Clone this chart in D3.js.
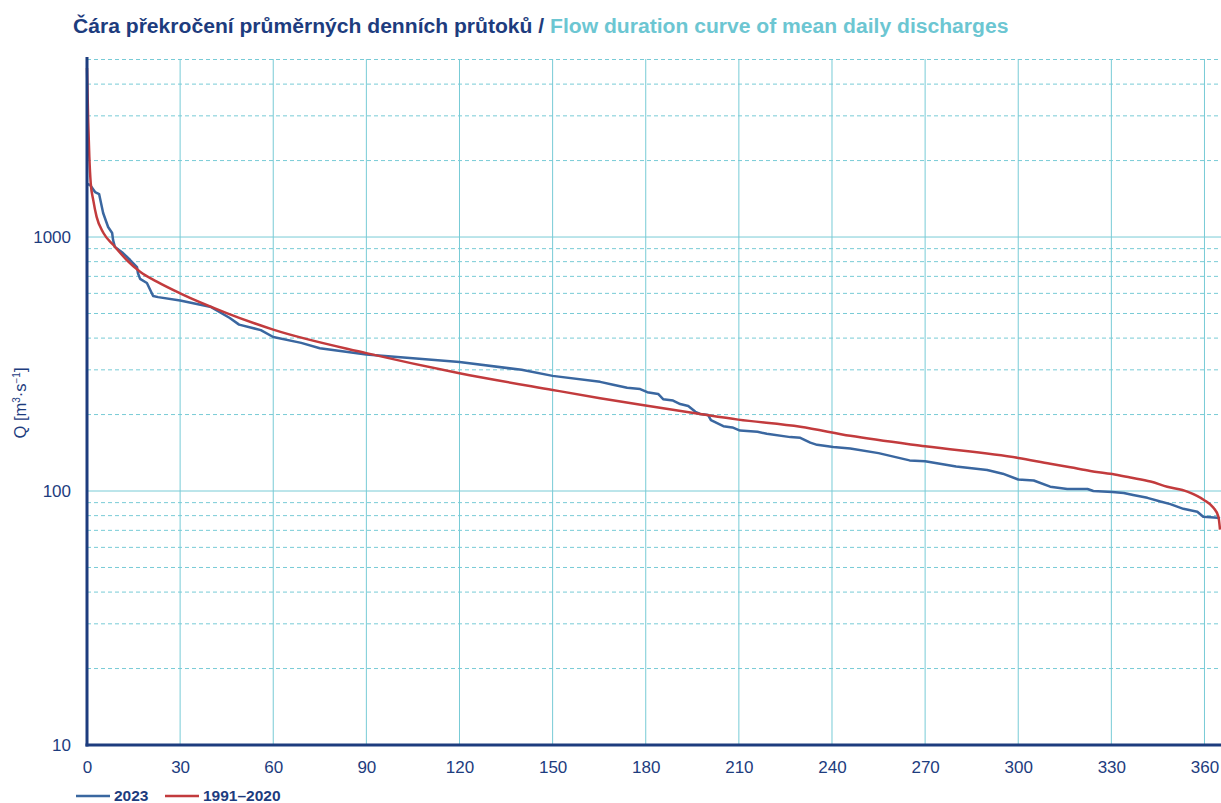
<!DOCTYPE html>
<html>
<head>
<meta charset="utf-8">
<script src="https://cdn.jsdelivr.net/npm/d3@7"></script>
<style>
  body { margin: 0; background: #fff; }
  text { font-family: "Liberation Sans", Arial, sans-serif; }
</style>
</head>
<body>
<div id="chart"></div>
<script>
  // days / discharges
  var days2023 = [0, 1, 2.6, 3.9, 5.2, 6.8, 8.1, 8.4, 9, 11.6, 13.9, 16.1, 16.4, 17.1, 19.3, 21.3, 22.9,
    30, 40, 46, 49, 56, 60, 69, 75, 90, 100, 120, 140, 150, 165.3, 169.5, 174, 178.2, 180.5, 184, 185.6,
    188.8, 191.1, 193.7, 196, 197.5, 200.1, 201, 203, 205, 207.9, 210.4, 216, 219, 226.6, 229.8, 233,
    235.2, 240.4, 245.9, 255, 265, 270, 280, 290, 295, 300, 305, 310.3, 315.8, 322.3, 324.2, 330.3, 334,
    337, 341.6, 345.8, 349, 353.2, 357.7, 359.6, 364.2, 365];
  var q2023 = [1620, 1603, 1504, 1477, 1243, 1095, 1037, 973, 913, 865, 812, 762, 722, 684, 659, 586, 580,
    562, 530, 480, 452, 430, 404, 383, 365, 345, 337, 322, 300, 284, 269, 262, 255, 252, 245, 241, 230,
    227, 220, 216, 205, 201, 199, 190, 185, 180, 178, 173, 171, 168, 163, 162, 155,
    152, 149, 147, 141, 132, 131, 125, 121, 117, 111, 110, 104, 101.8, 101.8, 100, 99.1, 98.2,
    96.5, 94, 90.9, 88.8, 85.1, 82.9, 79.2, 78.5, 77.9];

  var daysNorm = [0, 0.4, 0.75, 1.2, 2, 3.1, 5.3, 8.5, 12.8, 17.1, 22.5, 30, 45, 60, 90, 120, 150, 165.3,
    178.9, 197.5, 209.8, 229.8, 245.9, 270, 300, 310.3, 316.8, 323.2, 330.3, 336.1, 342.6, 348, 354.5,
    359.7, 362.9, 364.5, 365];
  var qNorm = [4630, 2810, 2070, 1630, 1400, 1200, 1037, 930, 812, 730, 667, 600, 502, 432, 349, 291, 250, 232,
    218, 201, 191, 179, 165, 150, 135, 128, 124, 120, 116.6, 113, 109, 104, 99.4,
    92.4, 85.9, 79.2, 70.5];

  var xTicks = [0, 30, 60, 90, 120, 150, 180, 210, 240, 270, 300, 330, 360];
  var yMajor = [10, 100, 1000];
  var yMinor = [20, 30, 40, 50, 60, 70, 80, 90, 200, 300, 400, 500, 600, 700, 800, 900, 2000, 3000, 4000, 5000];

  var navy = "#1d3c7e", cyan = "#78cbd6", blue = "#3a67a0", red = "#c23b3d";

  var svg = d3.select('#chart').append('svg')
              .attr('width', 1221).attr('height', 803);

  var x = d3.scaleLinear().domain([0, 365]).range([87, 1220]);
  var y = d3.scaleLog().domain([10, 5000]).range([745, 59.5]);

  // title
  var title = svg.append('text').attr('x', 73).attr('y', 33)
                 .style('font-size', '21.1px').style('font-weight', 'bold');
  title.append('tspan').attr('fill', navy).text('Čára překročení průměrných denních průtoků / ');
  title.append('tspan').attr('fill', '#6cc6d2').text('Flow duration curve of mean daily discharges');

  // grid
  svg.append('g').selectAll('line').data(yMinor).enter().append('line')
     .attr('x1', 87).attr('x2', 1221)
     .attr('y1', function(d){ return y(d); }).attr('y2', function(d){ return y(d); })
     .style('stroke', cyan).style('stroke-width', 1).style('stroke-dasharray', '4,3');
  svg.append('g').selectAll('line').data(yMajor.slice(1)).enter().append('line')
     .attr('x1', 87).attr('x2', 1221)
     .attr('y1', function(d){ return y(d); }).attr('y2', function(d){ return y(d); })
     .style('stroke', cyan).style('stroke-width', 1);
  svg.append('g').selectAll('line').data(xTicks.slice(1)).enter().append('line')
     .attr('x1', function(d){ return x(d); }).attr('x2', function(d){ return x(d); })
     .attr('y1', 59).attr('y2', 745)
     .style('stroke', cyan).style('stroke-width', 1);

  // curves
  var line = d3.line()
               .x(function(d){ return x(d[0]); })
               .y(function(d){ return y(d[1]); });
  svg.append('path').datum(d3.zip(days2023, q2023))
     .attr('d', line).style('fill', 'none').style('stroke', blue)
     .style('stroke-width', 2.5).style('stroke-linejoin', 'round');
  svg.append('path').datum(d3.zip(daysNorm, qNorm))
     .attr('d', line.curve(d3.curveMonotoneX)).style('fill', 'none').style('stroke', red)
     .style('stroke-width', 2.5).style('stroke-linejoin', 'round');

  // axes
  var xAxis = svg.append('g').attr('transform', 'translate(0,745)')
                 .call(d3.axisBottom(x).tickValues(xTicks).tickSize(0).tickPadding(16));
  xAxis.select('.domain').remove();
  xAxis.selectAll('text').style('font-size', '17px').style('fill', navy)
       .style('font-family', '"Liberation Sans", Arial, sans-serif');

  var yAxis = svg.append('g').attr('transform', 'translate(87,0)')
                 .call(d3.axisLeft(y).tickValues(yMajor).tickFormat(d3.format('d')).tickSize(0).tickPadding(16));
  yAxis.select('.domain').remove();
  yAxis.selectAll('text').style('font-size', '17px').style('fill', navy)
       .style('font-family', '"Liberation Sans", Arial, sans-serif');

  svg.append('line').attr('x1', 87).attr('x2', 87).attr('y1', 57).attr('y2', 746.5)
     .style('stroke', navy).style('stroke-width', 3);
  svg.append('line').attr('x1', 85.5).attr('x2', 1221).attr('y1', 745).attr('y2', 745)
     .style('stroke', navy).style('stroke-width', 3);

  // y label
  var yl = svg.append('text').attr('transform', 'translate(26,403) rotate(-90)')
              .attr('text-anchor', 'middle').style('font-size', '16.5px').attr('fill', navy);
  yl.append('tspan').text('Q [m');
  yl.append('tspan').attr('dy', -6).style('font-size', '10px').text('3');
  yl.append('tspan').attr('dy', 6).text('·s');
  yl.append('tspan').attr('dy', -6).style('font-size', '10px').text('−1');
  yl.append('tspan').attr('dy', 6).text(']');

  // legend
  var legend = [{ name: '2023', color: blue, x: 76 }, { name: '1991–2020', color: red, x: 165 }];
  var lg = svg.append('g').selectAll('g').data(legend).enter().append('g');
  lg.append('line').attr('x1', function(d){ return d.x; }).attr('x2', function(d){ return d.x + 34; })
    .attr('y1', 796).attr('y2', 796).style('stroke', function(d){ return d.color; }).style('stroke-width', 2.5);
  lg.append('text').attr('x', function(d){ return d.x + 38; }).attr('y', 801)
    .style('font-size', '15.5px').style('font-weight', 'bold').attr('fill', navy)
    .text(function(d){ return d.name; });
</script>
</body>
</html>
